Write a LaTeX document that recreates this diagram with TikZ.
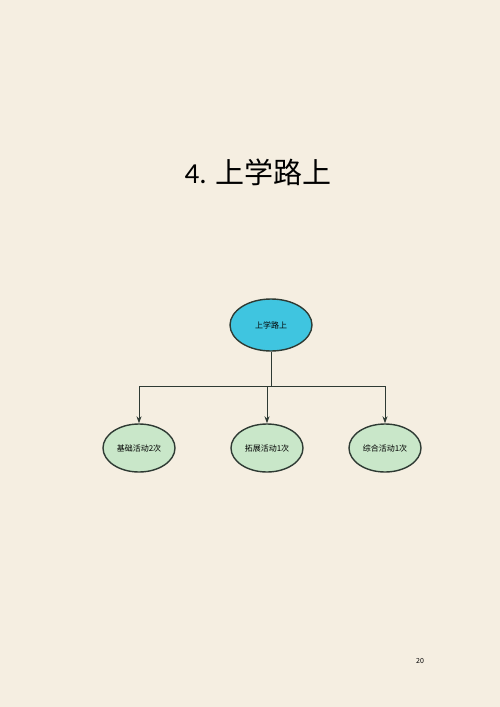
\documentclass[tikz,border=0pt]{standalone}
\usepackage{fontspec}
\setmainfont{Noto Sans CJK SC}
\newfontfamily\numfont{Carlito}
\usetikzlibrary{arrows.meta,shapes.geometric}

\definecolor{paper}{HTML}{F5EEE1}
\definecolor{topfill}{HTML}{3FC5E0}
\definecolor{leaffill}{HTML}{C9E7C9}
\definecolor{edgeline}{HTML}{2E3A33}

\tikzset{
  root/.style={ellipse, draw=edgeline, line width=1.4pt, fill=topfill,
    minimum width=82pt, minimum height=52pt, inner sep=0pt, font=\fontsize{8}{9}\selectfont},
  leaf/.style={ellipse, draw=edgeline, line width=1.4pt, fill=leaffill,
    minimum width=72pt, minimum height=48pt, inner sep=0pt, font=\fontsize{8}{9}\selectfont},
  link/.style={draw=edgeline, line width=0.9pt},
}

\begin{document}
\begin{tikzpicture}[x=1pt, y=1pt]
            \fill[paper] (0,0) rectangle (500,-707);
            \useasboundingbox (0,0) rectangle (500,-707);

            \node (title) at (258,-172) {\fontsize{29}{32}\selectfont{\numfont 4.} 上学路上};

            \node[root] (route) at (271,-325) {上学路上};
            \coordinate (split) at (271,-386);

            \node[leaf] (basic) at (139,-448) {基础活动2次};
            \node[leaf] (extend) at (267,-448) {拓展活动1次};
            \node[leaf] (combo) at (385,-448) {综合活动1次};

            \node (page) at (420,-661) {\fontsize{7}{8}\selectfont 20};

            % tree links
            \draw[link] (route.south) -- (split);
            \draw[link, -{Stealth[length=7pt, width=5pt]}] (split) -| (basic.north);
            \draw[link, -{Stealth[length=7pt, width=5pt]}] (split) -| (combo.north);
            \draw[link, -{Stealth[length=7pt, width=5pt]}] (extend.north |- split) -- (extend.north);

\end{tikzpicture}
\end{document}
